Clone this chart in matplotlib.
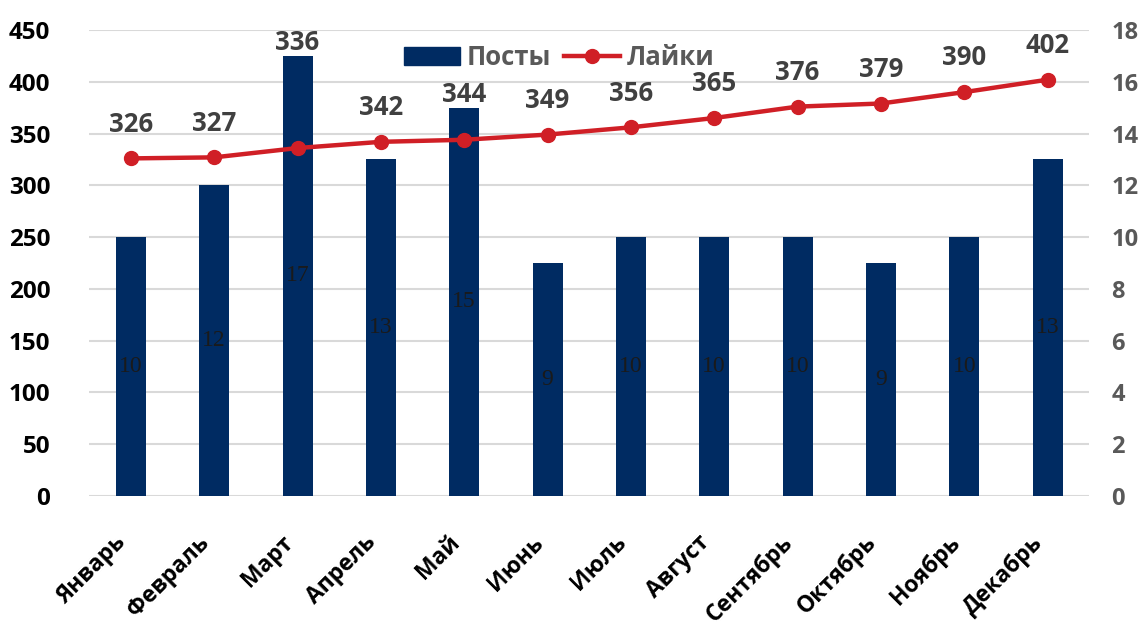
import matplotlib.pyplot as plt
from matplotlib.patches import Patch
from matplotlib.lines import Line2D
import numpy as np

months = ["Январь", "Февраль", "Март", "Апрель", "Май", "Июнь",
          "Июль", "Август", "Сентябрь", "Октябрь", "Ноябрь", "Декабрь"]
posts = [10, 12, 17, 13, 15, 9, 10, 10, 10, 9, 10, 13]
likes = [326, 327, 336, 342, 344, 349, 356, 365, 376, 379, 390, 402]

bar_color = "#002B62"
line_color = "#D01F26"
font = "Open Sans"

fig = plt.figure(figsize=(11.43, 6.3), dpi=100)
ax2 = fig.add_axes([0.078, 0.2127, 0.875, 0.7397])  # right axis: posts (bars)
ax = ax2.twinx()
ax.yaxis.tick_left()
ax2.yaxis.tick_right()
ax.set_zorder(ax2.get_zorder() + 1)
ax.patch.set_visible(False)

x = np.arange(len(months))

# bars on right scale
ax2.bar(x, posts, width=0.36, color=bar_color, zorder=2)
ax2.set_ylim(0, 18)
ax2.set_yticks(range(0, 19, 2))
ax2.grid(axis="y", color="#D9D9D9", linewidth=1.5, zorder=0)
ax2.set_axisbelow(True)
for xi, p in zip(x, posts):
    ax2.text(xi, p / 2, str(p), ha="center", va="center", fontsize=17,
             family="Liberation Serif", color="#1a1a1a", zorder=3)

# line on left scale
ax.plot(x, likes, color=line_color, linewidth=3.2, marker="o", markersize=10, zorder=4)
ax.set_ylim(0, 450)
ax.set_yticks(range(0, 451, 50))
for xi, lk, p in zip(x, likes, posts):
    y = max(lk + 33, p * 25 + 13)
    ax.text(xi, y, str(lk), ha="center", va="center", fontsize=18.5,
            fontweight="bold", family=font, color="#404040", zorder=5)

ax2.set_xlim(-0.5, len(months) - 0.5)
ax2.set_xticks(x)
ax2.set_xticklabels([])
for xi, m in zip(x, months):
    ax2.annotate(m, xy=(xi, 0), xycoords=("data", "axes fraction"),
                 xytext=(-12, -25), textcoords="offset points",
                 rotation=45, ha="right", va="top", rotation_mode="anchor",
                 fontsize=16.5, fontweight="bold", family=font, color="black")

for a in (ax, ax2):
    for s in a.spines.values():
        s.set_visible(False)
    a.tick_params(length=0)

ax.tick_params(axis="y", labelsize=17.5, labelcolor="black", pad=28)
for t in ax.get_yticklabels():
    t.set_fontweight("bold")
    t.set_family(font)
ax2.tick_params(axis="y", labelsize=17, labelcolor="#595959", pad=16)
for t in ax2.get_yticklabels():
    t.set_fontweight("bold")
    t.set_family(font)

handles = [Patch(color=bar_color, label="Посты"),
           Line2D([0], [0], color=line_color, linewidth=3.2, marker="o",
                  markersize=10, label="Лайки")]
leg = ax.legend(handles=handles, loc="center", bbox_to_anchor=(0.47, 0.94),
                ncol=2, frameon=False, handlelength=2.2, handletextpad=0.25,
                columnspacing=0.5, prop={"family": font, "weight": "bold", "size": 18.5})
for t in leg.get_texts():
    t.set_color("#595959")

fig.savefig("out.png", dpi=100)
